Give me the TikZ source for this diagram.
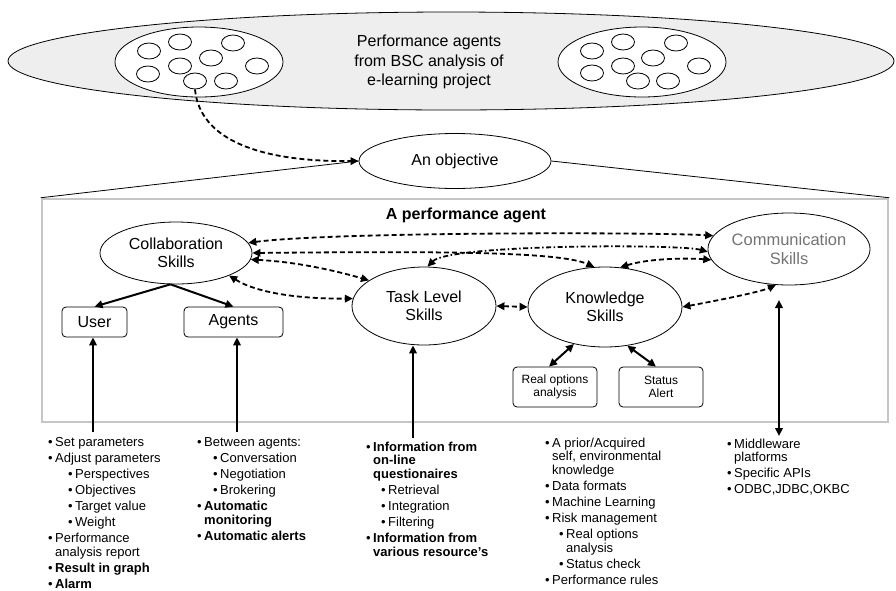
\documentclass[tikz,border=0pt]{standalone}
\usepackage{fontspec}
\setmainfont{Liberation Sans}
\usepackage{tikz}
\usetikzlibrary{shapes.geometric,arrows.meta}

\newcommand{\bl}{\makebox[7pt][l]{\textbullet}}
\newcommand{\cont}{\hspace*{7pt}}

\begin{document}
\begin{tikzpicture}[x=1pt,y=-1pt]
	\tikzstyle{oval} = [draw=black, ellipse, inner sep=0pt, line width=0.8pt, align=center, font=\fontsize{16}{18.5}\selectfont]
	\tikzstyle{dot} = [draw=black, fill=white, ellipse, inner sep=0pt, line width=0.8pt, minimum width=23, minimum height=16]
	\tikzstyle{box} = [draw=black, rounded corners=4pt, inner sep=0pt, line width=0.8pt, align=center]
	\tikzstyle{list} = [anchor=north west, inner sep=0pt, align=left, font=\fontsize{13}{13.7}\selectfont]
	\tikzstyle{arr} = [draw=black, line width=2pt, -{Triangle[length=8pt,width=7.5pt]}]
	\tikzstyle{arr2} = [draw=black, line width=2pt, {Triangle[length=8pt,width=7.5pt]}-{Triangle[length=8pt,width=7.5pt]}]
	\tikzstyle{dlink} = [draw=black, line width=1.8pt, dash pattern=on 5pt off 3pt, {Triangle[length=8pt,width=7.5pt]}-{Triangle[length=8pt,width=7.5pt]}]
	\tikzstyle{ddlink} = [dlink, dash pattern=on 5pt off 2.5pt on 1.5pt off 2.5pt]
	\useasboundingbox (0,0) rectangle (896,590);

	% projects and their agents
	\node[draw=black, fill=gray!13, ellipse, line width=0.8pt, minimum width=886, minimum height=98] (bsc) at (451,61) {};
	\node[align=center, font=\fontsize{16}{19.5}\selectfont] (bsctext) at (429,62) {Performance agents\\from BSC analysis of\\e-learning project};
	\node[draw=black, fill=white, ellipse, line width=0.8pt, minimum width=168, minimum height=70] (grpL) at (199,62) {};
	\node[draw=black, fill=white, ellipse, line width=0.8pt, minimum width=168, minimum height=70] (grpR) at (642,62) {};
	\node[dot] (l1) at (149,51) {};
	\node[dot] (l2) at (180,42) {};
	\node[dot] (l3) at (233,43) {};
	\node[dot] (l4) at (211,58) {};
	\node[dot] (l5) at (180,66) {};
	\node[dot] (l6) at (257,66) {};
	\node[dot] (l7) at (148,74) {};
	\node[dot] (l8) at (195,81) {};
	\node[dot] (l9) at (226,81) {};
	\node[dot] (r1) at (592,51) {};
	\node[dot] (r2) at (623,42) {};
	\node[dot] (r3) at (676,43) {};
	\node[dot] (r4) at (653,58) {};
	\node[dot] (r5) at (623,66) {};
	\node[dot] (r6) at (699,66) {};
	\node[dot] (r7) at (592,73) {};
	\node[dot] (r8) at (638,81) {};
	\node[dot] (r9) at (668,81) {};

	% one objective and its agent
	\node[oval, fill=white, minimum width=192, minimum height=55] (obj) at (455,161) {An objective};
	\node[draw=gray!45, line width=2.5pt, inner sep=0pt, minimum width=846, minimum height=223] (agent) at (465,310.5) {};
	\node[font=\fontsize{16}{18}\selectfont\bfseries] (title) at (466,215) {A performance agent};
	\draw[line width=0.8pt] (obj.west) -- (agent.north west);
	\draw[line width=0.8pt] (obj.east) -- (agent.north east);
	\draw[dlink, {}-{Triangle[length=8pt,width=7.5pt]}] (l8.south) .. controls (200,140) and (260,162) .. (obj.west);

	% skills
	\node[oval, minimum width=152, minimum height=62] (collab) at (176,253) {Collaboration\\Skills};
	\node[oval, minimum width=144, minimum height=78] (task) at (424,306) {Task Level\\Skills};
	\node[oval, minimum width=154, minimum height=80] (know) at (605,307) {Knowledge\\Skills};
	\node[oval, minimum width=152, minimum height=72, text=black!55, font=\fontsize{16.5}{19}\selectfont] (comm) at (789,249) {Communication\\Skills};
	\node[box, minimum width=65, minimum height=30, font=\fontsize{16}{18}\selectfont] (user) at (94.5,322) {User};
	\node[box, minimum width=99, minimum height=30, font=\fontsize{16}{18}\selectfont] (agents) at (233.5,322) {Agents};
	\node[box, minimum width=84, minimum height=40, font=\fontsize{12}{13.5}\selectfont] (real) at (555,387) {Real options\\analysis};
	\node[box, minimum width=84, minimum height=40, font=\fontsize{12}{13.5}\selectfont] (status) at (661,387) {Status\\Alert};

	\draw[arr] (collab.-100) -- (user.north);
	\draw[arr] (collab.-100) -- (agents.north);
	\draw[arr2] (know.-130) -- ([xshift=-6pt]real.north);
	\draw[arr2] (know.-60) -- ([xshift=-5pt]status.north);

	\draw[dlink] (collab.8) .. controls (330,232) and (650,232) .. (comm.170);
	\draw[dlink] (collab.0) .. controls (450,251) and (560,252) .. (know.105);
	\draw[ddlink] (comm.182) .. controls (680,244) and (450,244) .. (task.85);
	\draw[dlink] (collab.-5) .. controls (300,262) and (340,272) .. (task.155);
	\draw[dlink] (collab.-23) .. controls (260,295) and (310,299) .. (task.174);
	\draw[dlink] (task.east) -- (know.west);
	\draw[dlink] (know.69) .. controls (650,258) and (690,258) .. (comm.188);
	\draw[dlink] (know.east) .. controls (720,300) and (760,292) .. (comm.250);

	% what each skill deals with
	\node[list] (luser) at (48,437.5) {\bl Set parameters\\[2.3pt]
		\bl Adjust parameters\\[2.3pt]
		\hspace*{20pt}\bl Perspectives\\[2.3pt]
		\hspace*{20pt}\bl Objectives\\[2.3pt]
		\hspace*{20pt}\bl Target value\\[2.3pt]
		\hspace*{20pt}\bl Weight\\[2.3pt]
		\bl Performance\\
		\cont analysis report\\[2.3pt]
		\bl\textbf{Result in graph}\\[2.3pt]
		\bl\textbf{Alarm}};
	\node[list] (lagents) at (197,437.5) {\bl Between agents:\\[2.3pt]
		\hspace*{16pt}\bl Conversation\\[2.3pt]
		\hspace*{16pt}\bl Negotiation\\[2.3pt]
		\hspace*{16pt}\bl Brokering\\[2.3pt]
		\bl\textbf{Automatic}\\
		\cont\textbf{monitoring}\\[2.3pt]
		\bl\textbf{Automatic alerts}};
	\node[list] (ltask) at (366,441.5) {\bl\textbf{Information from}\\
		\cont\textbf{on-line}\\
		\cont\textbf{questionaires}\\[2.3pt]
		\hspace*{15pt}\bl Retrieval\\[2.3pt]
		\hspace*{15pt}\bl Integration\\[2.3pt]
		\hspace*{15pt}\bl Filtering\\[2.3pt]
		\bl\textbf{Information from}\\
		\cont\textbf{various resource's}};
	\node[list] (lknow) at (545,437.5) {\bl A prior/Acquired\\
		\cont self, environmental\\
		\cont knowledge\\[2.3pt]
		\bl Data formats\\[2.3pt]
		\bl Machine Learning\\[2.3pt]
		\bl Risk management\\[2.3pt]
		\hspace*{14pt}\bl Real options\\
		\hspace*{14pt}\cont analysis\\[2.3pt]
		\hspace*{14pt}\bl Status check\\[2.3pt]
		\bl Performance rules};
	\node[list] (lcomm) at (727,438.5) {\bl Middleware\\
		\cont platforms\\[2.3pt]
		\bl Specific APIs\\[2.3pt]
		\bl ODBC,JDBC,OKBC};

	\coordinate (u1) at (93,432);
	\coordinate (a1) at (237,432);
	\coordinate (t1) at (413,438);
	\coordinate (c1) at (779,300);
	\coordinate (c2) at (779,436);
	\draw[arr] (u1) -- (u1 |- user.south);
	\draw[arr] (a1) -- (a1 |- agents.south);
	\draw[arr] (t1) -- (t1 |- task.south);
	\draw[arr2] (c1) -- (c2);
\end{tikzpicture}
\end{document}
